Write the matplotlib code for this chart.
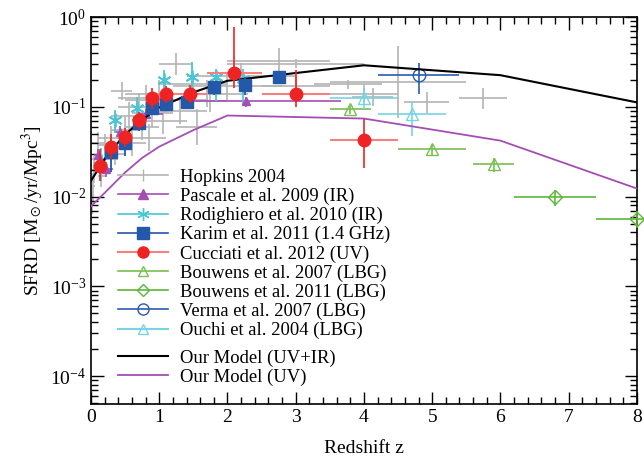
import matplotlib
matplotlib.use("Agg")
import matplotlib.pyplot as plt
import numpy as np
from matplotlib.lines import Line2D
from matplotlib.ticker import MultipleLocator

plt.rcParams['font.family'] = ['Liberation Serif', 'DejaVu Serif']
plt.rcParams['mathtext.fontset'] = 'stix'

# model curves
Z_MODEL = [0, 0.25, 0.5, 0.75, 1.0, 1.5, 2, 4, 6, 8]
SFRD_TOT = [0.015, 0.030, 0.049, 0.072, 0.098, 0.145, 0.195, 0.29, 0.225, 0.112]
SFRD_UV = [0.0078, 0.012, 0.0186, 0.027, 0.036, 0.055, 0.080, 0.074, 0.042, 0.0123]

# Hopkins 2004 compilation (grey crosses)
H_Z = [0.02, 0.03, 0.05, 0.10, 0.15, 0.20, 0.20, 0.30, 0.35, 0.45, 0.50, 0.55, 0.60,
       0.70, 0.75, 0.80, 0.85, 0.90, 1.00, 1.05, 1.10, 1.25, 1.30, 1.50, 1.55, 1.70,
       1.75, 2.00, 2.20, 2.75, 3.00, 3.00, 3.77, 4.00, 4.13, 4.50, 4.92, 5.74]
H_SFRD = [0.009, 0.013, 0.020, 0.040, 0.017, 0.038, 0.026, 0.045, 0.030, 0.150, 0.055,
          0.080, 0.040, 0.100, 0.060, 0.125, 0.045, 0.085, 0.140, 0.070, 0.120, 0.300,
          0.090, 0.180, 0.060, 0.140, 0.115, 0.170, 0.220, 0.320, 0.300, 0.170, 0.178,
          0.140, 0.130, 0.190, 0.112, 0.124]
H_XERR = [0.02, 0.03, 0.05, 0.10, 0.05, 0.10, 0.20, 0.20, 0.15, 0.15, 0.20, 0.25, 0.20,
          0.30, 0.25, 0.40, 0.25, 0.30, 0.50, 0.35, 0.60, 0.25, 0.40, 0.50, 0.30, 0.60,
          0.25, 0.80, 0.80, 0.75, 1.00, 0.50, 0.50, 0.50, 0.30, 1.00, 0.33, 0.35]
H_DEX = [0.15, 0.15, 0.15, 0.12, 0.12, 0.12, 0.15, 0.13, 0.13, 0.10, 0.15, 0.15, 0.15,
         0.15, 0.15, 0.15, 0.15, 0.15, 0.15, 0.15, 0.15, 0.12, 0.15, 0.12, 0.20, 0.15,
         0.12, 0.15, 0.15, 0.15, 0.05, 0.10, 0.05, 0.10, 0.10, 0.40, 0.12, 0.12]

# Pascale et al. 2009
P_Z = [0.10, 0.22, 0.43, 0.80, 2.27]
P_SFRD = [0.029, 0.0205, 0.053, 0.083, 0.115]
P_XLO = [0.05, 0.10, 0.10, 0.10, 0.80]
P_XHI = [0.05, 0.10, 0.10, 0.25, 1.40]
P_YERR = [0.005, 0.004, 0.008, 0.012, 0.015]

# Rodighiero et al. 2010
R_Z = [0.15, 0.35, 0.67, 1.07, 1.48, 1.83, 2.23]
R_SFRD = [0.025, 0.071, 0.098, 0.20, 0.215, 0.215, 0.205]
R_YLO = [0.010, 0.020, 0.030, 0.060, 0.070, 0.100, 0.100]
R_YHI = [0.010, 0.020, 0.030, 0.060, 0.100, 0.050, 0.060]

# Karim et al. 2011
K_Z = [0.3, 0.5, 0.7, 0.9, 1.1, 1.4, 1.8, 2.25, 2.75]
K_SFRD = [0.031, 0.040, 0.066, 0.096, 0.108, 0.112, 0.165, 0.175, 0.215]
K_YERR = [0.012, 0.012, 0.012, 0.015, 0.015, 0.015, 0.03, 0.04, 0.03]

# Cucciati et al. 2012
C_Z = [0.125, 0.3, 0.5, 0.7, 0.9, 1.1, 1.45, 2.1, 3.0, 4.0]
C_SFRD = [0.022, 0.036, 0.046, 0.071, 0.125, 0.14, 0.14, 0.24, 0.14, 0.043]
C_XERR = [0.075, 0.1, 0.1, 0.1, 0.1, 0.1, 0.25, 0.4, 0.5, 0.5]
C_YLO = [0.007, 0.010, 0.010, 0.014, 0.03, 0.03, 0.03, 0.08, 0.04, 0.022]
C_YHI = [0.012, 0.014, 0.012, 0.016, 0.035, 0.03, 0.035, 0.53, 0.12, 0.031]

# Bouwens et al. 2007 / 2011
B7_Z = [3.8, 5.0, 5.9]
B7_SFRD = [0.094, 0.034, 0.023]
B7_XERR = [0.3, 0.5, 0.3]
B7_YERR = [0.01, 0.005, 0.004]
B11_Z = [6.8, 8.0]
B11_SFRD = [0.0098, 0.0057]
B11_XERR = [0.6, 0.6]
B11_YERR = [0.002, 0.0012]

# Verma et al. 2007
V_Z = [4.8]
V_SFRD = [0.225]
V_XERR = [0.6]
V_YERR = [0.085]

# Ouchi et al. 2004
O_Z = [4.0, 4.7]
O_SFRD = [0.124, 0.083]
O_XERR = [0.5, 0.5]
O_YLO = [0.03, 0.036]
O_YHI = [0.04, 0.03]

c_grey = '#b4b4b4'
c_purp = '#a44eb4'
c_cyan = '#4cc6d6'
c_blue = '#2458a8'
c_red = '#ee2424'
c_gr1 = '#78c050'
c_gr2 = '#5cb838'
c_vb = '#2a5cb0'
c_lc = '#78d4e2'

fig = plt.figure(figsize=(6.44, 4.61), dpi=100)
ax = fig.add_axes([0.1413, 0.1236, 0.8477, 0.8395])

hz = np.array(H_Z)
hs = np.array(H_SFRD)
hd = np.array(H_DEX)
ax.errorbar(hz, hs, xerr=H_XERR, yerr=[hs - hs / 10**hd, hs * 10**hd - hs],
            fmt='none', ecolor=c_grey, elinewidth=1.2, zorder=1)

ax.plot(Z_MODEL, SFRD_TOT, color='k', lw=1.5, zorder=5)
ax.plot(Z_MODEL, SFRD_UV, color=c_purp, lw=1.3, zorder=5)

ax.errorbar(P_Z, P_SFRD, xerr=[P_XLO, P_XHI], yerr=P_YERR, fmt='^', ms=6,
            color=c_purp, ecolor=c_purp, elinewidth=1.2, zorder=4)
ax.errorbar(R_Z, R_SFRD, yerr=[R_YLO, R_YHI], fmt='none', ecolor=c_cyan,
            elinewidth=1.3, zorder=4)
ax.plot(R_Z, R_SFRD, ls='none', marker=(6, 2, 0), ms=10, mew=1.3, color=c_cyan, zorder=4)
ax.errorbar(K_Z, K_SFRD, yerr=K_YERR, fmt='s', ms=8, color=c_blue, ecolor=c_blue,
            elinewidth=1.3, zorder=6)
ax.errorbar(C_Z, C_SFRD, xerr=C_XERR, fmt='none', ecolor='#f48080', elinewidth=1.5, zorder=6)
ax.errorbar(C_Z, C_SFRD, yerr=[C_YLO, C_YHI], fmt='o', ms=9, color=c_red,
            ecolor=c_red, elinewidth=1.2, zorder=7)
ax.errorbar(B7_Z, B7_SFRD, xerr=B7_XERR, yerr=B7_YERR, fmt='^', ms=8, mfc='none',
            mec=c_gr1, ecolor=c_gr1, elinewidth=1.2, zorder=4)
ax.errorbar(B11_Z, B11_SFRD, xerr=B11_XERR, yerr=B11_YERR, fmt='D', ms=7, mfc='none',
            mec=c_gr2, ecolor=c_gr2, elinewidth=1.2, zorder=4, clip_on=False)
ax.errorbar(V_Z, V_SFRD, xerr=V_XERR, yerr=V_YERR, fmt='o', ms=9, mfc='none',
            mec=c_vb, ecolor=c_vb, elinewidth=1.2, zorder=4)
ax.errorbar(O_Z, O_SFRD, xerr=O_XERR, yerr=[O_YLO, O_YHI], fmt='^', ms=8, mfc='none',
            mec=c_lc, ecolor=c_lc, elinewidth=1.2, zorder=4)

ax.set_yscale('log')
ax.set_xlim(0, 8)
ax.set_ylim(4.9e-5, 1)
ax.xaxis.set_major_locator(MultipleLocator(1))
ax.xaxis.set_minor_locator(MultipleLocator(0.2))
ax.tick_params(which='both', direction='in', top=True, right=True, labelsize=14)
ax.tick_params(which='major', length=9, width=1)
ax.tick_params(which='minor', length=5, width=1)
for s in ax.spines.values():
    s.set_linewidth(1.2)

ax.set_xlabel('Redshift z', fontsize=14, labelpad=10)
ax.set_ylabel(r'SFRD [M$_\odot$/yr/Mpc$^3$]', fontsize=14, labelpad=4)

# legends
data_labels = ['Hopkins 2004', 'Pascale et al. 2009 (IR)', 'Rodighiero et al. 2010 (IR)',
               'Karim et al. 2011 (1.4 GHz)', 'Cucciati et al. 2012 (UV)',
               'Bouwens et al. 2007 (LBG)', 'Bouwens et al. 2011 (LBG)',
               'Verma et al. 2007 (LBG)', 'Ouchi et al. 2004 (LBG)']
h1 = [
    Line2D([], [], color=c_grey, marker='|', ms=8, lw=1.2),
    Line2D([], [], color=c_purp, marker='^', ms=7, lw=1.2),
    Line2D([], [], color=c_cyan, marker=(6, 2, 0), ms=9, lw=1.2),
    Line2D([], [], color=c_blue, marker='s', ms=8, lw=1.2),
    Line2D([], [], color='#f48080', marker='o', ms=8, mfc=c_red, mec=c_red, lw=1.5),
    Line2D([], [], color=c_gr1, marker='^', ms=7, mfc='none', lw=1.2),
    Line2D([], [], color=c_gr2, marker='D', ms=6, mfc='none', lw=1.2),
    Line2D([], [], color=c_vb, marker='o', ms=8, mfc='none', lw=1.2),
    Line2D([], [], color=c_lc, marker='^', ms=7, mfc='none', lw=1.5),
]
leg1 = ax.legend(h1, data_labels, loc='upper left', bbox_to_anchor=(0.035, 0.627),
                 frameon=False, fontsize=13.4, handlelength=2.7, handletextpad=0.65,
                 labelspacing=0.1, borderaxespad=0)
ax.add_artist(leg1)
h2 = [Line2D([], [], color='k', lw=1.5), Line2D([], [], color=c_purp, lw=1.3)]
ax.legend(h2, ['Our Model (UV+IR)', 'Our Model (UV)'], loc='upper left',
          bbox_to_anchor=(0.035, 0.16), frameon=False, fontsize=13.4, handlelength=2.7,
          handletextpad=0.65, labelspacing=0.1, borderaxespad=0)

plt.savefig('out.png', dpi=100)
